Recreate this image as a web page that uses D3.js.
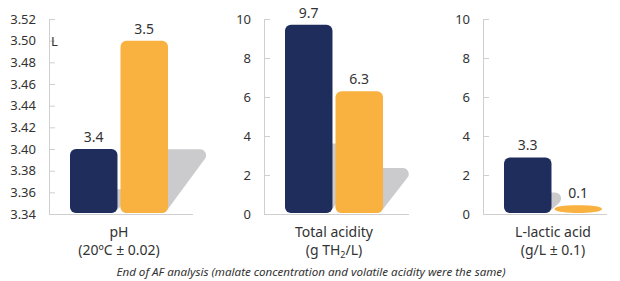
<!DOCTYPE html>
<html>
<head>
<meta charset="utf-8">
<script src="https://cdn.jsdelivr.net/npm/d3@7"></script>
<style>
  body { margin: 0; background: #fff; }
  text { font-family: "Noto Sans", sans-serif; fill: #333; }
</style>
</head>
<body>
<div id="chart"></div>
<script>
// data
var series = ["before", "after"];
var phValues = [3.4, 3.5];
var acidityValues = [9.7, 6.3];
var lacticValues = [3.3, 0.1];
// drawn heights of the L-lactic bars (the picture does not draw them to scale)
var lacticBars = [2.9, 0.45];
var phTicks = [3.34, 3.36, 3.38, 3.40, 3.42, 3.44, 3.46, 3.48, 3.50, 3.52];
var tenTicks = [0, 2, 4, 6, 8, 10];
var panelNames = ["pH", "Total acidity", "L-lactic acid"];
var caption = "End of AF analysis (malate concentration and volatile acidity were the same)";

var colors = ["#1f2d5d", "#f9b13f"];
var shadowColor = "#cbcbcd";

var width = 620, height = 281;
var yTop = 19, yBottom = 214;

var svg = d3.select("#chart")
  .append("svg")
    .attr("width", width)
    .attr("height", height);

var panels = [
  {x: 49, len: 144, domain: [3.34, 3.52], ticks: phTicks, fmt: d3.format(".2f"),
   values: phValues, bars: phValues, name: panelNames[0]},
  {x: 264, len: 145, domain: [0, 10], ticks: tenTicks, fmt: d3.format("d"),
   values: acidityValues, bars: acidityValues, name: panelNames[1]},
  {x: 483, len: 124, domain: [0, 10], ticks: tenTicks, fmt: d3.format("d"),
   values: lacticValues, bars: lacticBars, name: panelNames[2]}
];

var k = 0.66;      // shadow shear
var sh = 0.37;     // shadow height ratio
var r = 6;

function tall(d, y) { return yBottom - y(d) > 3 * r; }

panels.forEach(function(p, pi) {
  var g = svg.append("g");
  var y = d3.scaleLinear().domain(p.domain).range([yBottom, yTop]);
  var x = d3.scaleBand().domain(series)
    .range([p.x + 21, p.x + 119]).paddingInner(0.06);

  // axis
  var axis = d3.axisLeft(y).tickValues(p.ticks).tickFormat(p.fmt)
    .tickSize(-6).tickPadding(13);
  var ag = g.append("g").attr("transform", "translate(" + p.x + ",0)").call(axis);
  ag.select(".domain").attr("stroke", "#cfcfcf").attr("d", "M0.5," + yTop + "V" + yBottom);
  ag.selectAll(".tick line").attr("stroke", "#cfcfcf");
  ag.selectAll(".tick text").style("font-size", "13px").style("font-family", "Noto Sans").attr("fill", "#333");

  // baseline
  g.append("line")
    .attr("x1", p.x).attr("x2", p.x + p.len)
    .attr("y1", yBottom + 0.5).attr("y2", yBottom + 0.5)
    .attr("stroke", "#cfcfcf");

  // shadows (only for bars tall enough to cast one)
  g.selectAll("path.shadow")
    .data(p.bars)
    .enter()
    .append("path")
      .attr("class", "shadow")
      .attr("fill", shadowColor)
      .attr("stroke", shadowColor)
      .attr("stroke-width", 2 * r)
      .attr("stroke-linejoin", "round")
      .attr("display", function(d) { return tall(d, y) ? null : "none"; })
      .attr("d", function(d, i) {
        var h = (yBottom - 1 - y(d)) * sh;
        var x0 = x(series[i]) + r, x1 = x(series[i]) + x.bandwidth() - r;
        var yb = yBottom - 1 - r, yt = yBottom - 1 - Math.max(h, 2 * r) + r;
        var dx = k * (yBottom - 1 - yt);
        return "M" + x0 + "," + yb + "L" + x1 + "," + yb +
          "L" + (x1 + dx) + "," + yt + "L" + (x0 + dx) + "," + yt + "Z";
      });

  // bars
  g.selectAll("rect.bar")
    .data(p.bars)
    .enter()
    .append("rect")
      .attr("class", "bar")
      .attr("x", function(d, i) { return x(series[i]); })
      .attr("width", x.bandwidth())
      .attr("y", function(d) { return y(d); })
      .attr("height", function(d) { return yBottom - 1 - y(d); })
      .attr("rx", function(d) { return tall(d, y) ? r : 20; })
      .attr("ry", function(d) { return tall(d, y) ? r : 4; })
      .attr("fill", function(d, i) { return colors[i]; });

  // value labels
  g.selectAll("text.val")
    .data(p.values)
    .enter()
    .append("text")
      .attr("class", "val")
      .attr("x", function(d, i) { return x(series[i]) + x.bandwidth() / 2; })
      .attr("y", function(d, i) { return y(p.bars[i]) - 7; })
      .attr("text-anchor", "middle")
      .style("font-size", "14px")
      .text(function(d) { return d3.format(".1f")(d); });

  // category label
  var cx = x(series[0]) + 49;
  g.append("text")
    .attr("x", cx).attr("y", 237)
    .attr("text-anchor", "middle")
    .style("font-size", "14px")
    .text(p.name);

  var sub = g.append("text")
    .attr("x", cx).attr("y", 255)
    .attr("text-anchor", "middle")
    .style("font-size", "14px");
  if (pi == 0) {
    sub.text("(20ºC ± 0.02)");
  } else if (pi == 1) {
    sub.append("tspan").text("(g TH");
    sub.append("tspan").attr("dy", 3).style("font-size", "9px").text("2");
    sub.append("tspan").attr("dy", -3).text("/L)");
  } else {
    sub.text("(g/L ± 0.1)");
  }
});

// stray "L" next to the pH axis
svg.append("text")
  .attr("x", 51).attr("y", 46)
  .style("font-size", "13px")
  .text("L");

svg.append("text")
  .attr("x", 311).attr("y", 276)
  .attr("text-anchor", "middle")
  .style("font-size", "11.6px")
  .style("font-style", "italic")
  .text(caption);
</script>
</body>
</html>
